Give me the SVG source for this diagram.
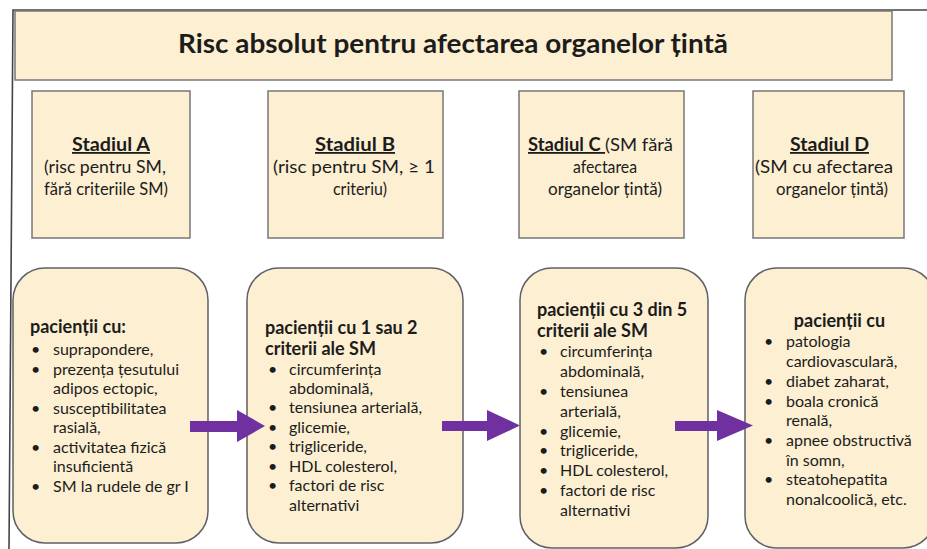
<svg xmlns="http://www.w3.org/2000/svg" width="927" height="549" viewBox="0 0 927 549">
<style>
text{font-family:Lato,"Open Sans","Liberation Sans",sans-serif;fill:#1c1c1c}
.title{font-size:26px;font-weight:bold;text-anchor:middle}
.st{font-size:18px;text-anchor:middle}
.b{font-weight:bold;text-decoration:underline}
.h{font-size:18px;font-weight:bold}
.t{font-size:16px}
.sq{fill:#fcefd2;stroke:#777;stroke-width:1.5}
.rb{fill:#fcefd2;stroke:#5f5f66;stroke-width:1.5}
.arr{fill:#7030a0}
</style>
<rect width="927" height="549" fill="#ffffff"/>
<path d="M927 10 L13 10 L9 549" fill="none" stroke="#444" stroke-width="1.6"/>
<g id="title">
<rect class="sq" x="15" y="11" width="877" height="69"/>
<text class="title" x="453" y="53" textLength="550" lengthAdjust="spacingAndGlyphs">Risc absolut pentru afectarea organelor țintă</text>
</g>
<g id="stadiul-a">
<rect class="sq" x="32" y="91" width="158" height="147"/>
<text class="st" x="111" y="151" textLength="78" lengthAdjust="spacingAndGlyphs"><tspan class="b">Stadiul A</tspan></text>
<text class="st" x="105" y="173" textLength="122" lengthAdjust="spacingAndGlyphs">(risc pentru SM,</text>
<text class="st" x="106" y="195" textLength="124" lengthAdjust="spacingAndGlyphs">fără criteriile SM)</text>
</g>
<g id="stadiul-b">
<rect class="sq" x="268" y="91" width="175" height="147"/>
<text class="st" x="355" y="151" textLength="80" lengthAdjust="spacingAndGlyphs"><tspan class="b">Stadiul B</tspan></text>
<text class="st" x="354" y="173" textLength="162" lengthAdjust="spacingAndGlyphs">(risc pentru SM, ≥ 1</text>
<text class="st" x="360" y="195" textLength="54" lengthAdjust="spacingAndGlyphs">criteriu)</text>
</g>
<g id="stadiul-c">
<rect class="sq" x="519" y="91" width="165" height="147"/>
<text class="st" x="600.5" y="151" textLength="145" lengthAdjust="spacingAndGlyphs"><tspan class="b">Stadiul C </tspan>(SM fără</text>
<text class="st" x="605" y="173" textLength="64" lengthAdjust="spacingAndGlyphs">afectarea</text>
<text class="st" x="605" y="195" textLength="114" lengthAdjust="spacingAndGlyphs">organelor țintă)</text>
</g>
<g id="stadiul-d">
<rect class="sq" x="753" y="91" width="151" height="147"/>
<text class="st" x="829.5" y="151" textLength="79" lengthAdjust="spacingAndGlyphs"><tspan class="b">Stadiul D</tspan></text>
<text class="st" x="824" y="173" textLength="138" lengthAdjust="spacingAndGlyphs">(SM cu afectarea</text>
<text class="st" x="832" y="195" textLength="112" lengthAdjust="spacingAndGlyphs">organelor țintă)</text>
</g>
<g id="box-a">
<rect class="rb" x="13" y="268" width="195" height="275" rx="32"/>
<text class="h" x="30" y="333">pacienții cu:</text>
<g class="t">
<text x="31" y="355">•</text><text x="53" y="355">suprapondere,</text>
<text x="31" y="374.5">•</text><text x="53" y="374.5">prezența țesutului</text>
<text x="53" y="394">adipos ectopic,</text>
<text x="31" y="413.5">•</text><text x="53" y="413.5">susceptibilitatea</text>
<text x="53" y="433">rasială,</text>
<text x="31" y="452.5">•</text><text x="53" y="452.5">activitatea fizică</text>
<text x="53" y="472">insuficientă</text>
<text x="31" y="491.5">•</text><text x="53" y="491.5">SM la rudele de gr I</text>
</g>
</g>
<g id="box-b">
<rect class="rb" x="247" y="268" width="216" height="275" rx="32"/>
<text class="h" x="265" y="334">pacienții cu 1 sau 2</text>
<text class="h" x="265" y="355">criterii ale SM</text>
<g class="t">
<text x="268" y="375">•</text><text x="289" y="375">circumferința</text>
<text x="289" y="394">abdominală,</text>
<text x="268" y="413">•</text><text x="289" y="413">tensiunea arterială,</text>
<text x="268" y="432.5">•</text><text x="289" y="432.5">glicemie,</text>
<text x="268" y="452">•</text><text x="289" y="452">trigliceride,</text>
<text x="268" y="471.5">•</text><text x="289" y="471.5">HDL colesterol,</text>
<text x="268" y="491">•</text><text x="289" y="491">factori de risc</text>
<text x="289" y="511">alternativi</text>
</g>
</g>
<g id="box-c">
<rect class="rb" x="520" y="268" width="188" height="280" rx="32"/>
<text class="h" x="537" y="316">pacienții cu 3 din 5</text>
<text class="h" x="537" y="337">criterii ale SM</text>
<g class="t">
<text x="539" y="357">•</text><text x="560" y="357">circumferința</text>
<text x="560" y="377">abdominală,</text>
<text x="539" y="397">•</text><text x="560" y="397">tensiunea</text>
<text x="560" y="416.5">arterială,</text>
<text x="539" y="436.5">•</text><text x="560" y="436.5">glicemie,</text>
<text x="539" y="456">•</text><text x="560" y="456">trigliceride,</text>
<text x="539" y="476">•</text><text x="560" y="476">HDL colesterol,</text>
<text x="539" y="495.5">•</text><text x="560" y="495.5">factori de risc</text>
<text x="560" y="515.5">alternativi</text>
</g>
</g>
<g id="box-d">
<rect class="rb" x="745" y="268" width="190" height="280" rx="32"/>
<text class="h" x="839.5" y="327" text-anchor="middle">pacienții cu</text>
<g class="t">
<text x="764" y="347">•</text><text x="786" y="347">patologia</text>
<text x="786" y="367">cardiovasculară,</text>
<text x="764" y="387">•</text><text x="786" y="387">diabet zaharat,</text>
<text x="764" y="407">•</text><text x="786" y="407">boala cronică</text>
<text x="786" y="426">renală,</text>
<text x="764" y="446">•</text><text x="786" y="446">apnee obstructivă</text>
<text x="786" y="465.5">în somn,</text>
<text x="764" y="485">•</text><text x="786" y="485">steatohepatita</text>
<text x="786" y="505">nonalcoolică, etc.</text>
</g>
</g>
<g id="connectors">
<path class="arr" d="M190 421 H237 V410 L265 426 L237 442 V432 H190 Z"/>
<path class="arr" d="M442 421 H487 V410 L520 425.5 L487 441 V431 H442 Z"/>
<path class="arr" d="M675 421 H717 V410 L753 425.5 L717 441 V431 H675 Z"/>
</g>
</svg>
